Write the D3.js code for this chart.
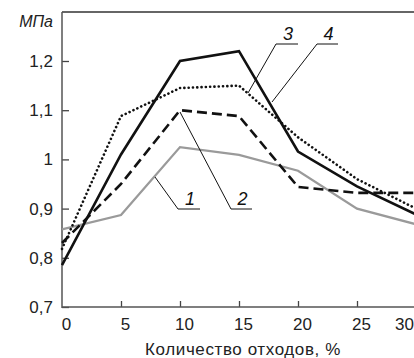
<!DOCTYPE html>
<html><head><meta charset="utf-8">
<script src="https://cdn.jsdelivr.net/npm/d3@7"></script>
<style>html,body{margin:0;padding:0;background:#fff;}svg{display:block;}</style>
</head><body>
<svg id="c" width="414" height="358"></svg>
<script>
const xValues = [0, 5, 10, 15, 20, 25, 30];
const series1 = [0.858, 0.887, 1.025, 1.009, 0.977, 0.900, 0.868];
const series2 = [0.830, 0.950, 1.100, 1.088, 0.944, 0.932, 0.932];
const series3 = [0.785, 1.010, 1.200, 1.220, 1.016, 0.945, 0.888];
const series4 = [0.818, 1.088, 1.145, 1.150, 1.045, 0.960, 0.900];
const yTicks = [0.7, 0.8, 0.9, 1.0, 1.1, 1.2];
const xTicks = [0, 5, 10, 15, 20, 25, 30];
const yLabel = "МПа";
const xLabel = "Количество отходов, %";
const seriesNames = ["1", "2", "3", "4"];

const svg = d3.select("#c");
const x = d3.scaleLinear().domain([0, 30]).range([62, 416]);
const y = d3.scaleLinear().domain([0.7, 1.2]).range([307, 61]);
const font = "'Liberation Sans', Arial, sans-serif";

// frame top line
svg.append("line").attr("x1", 62).attr("x2", 414).attr("y1", 12).attr("y2", 12)
  .attr("stroke", "#333").attr("stroke-width", 1.5);

// y axis
const yAxis = svg.append("g").attr("transform", "translate(62,0)")
  .call(d3.axisRight(y).tickValues(yTicks).tickSize(7).tickFormat(""));
yAxis.select(".domain").remove();
yAxis.selectAll(".tick line").attr("stroke", "#444").attr("stroke-width", 1.3);
svg.append("line").attr("x1", 62).attr("x2", 62).attr("y1", 12).attr("y2", 308)
  .attr("stroke", "#555").attr("stroke-width", 1.5);
svg.append("g").selectAll("text").data(yTicks).join("text")
  .attr("x", 53).attr("y", d => y(d) + 6).attr("text-anchor", "end")
  .attr("font-family", font).attr("font-size", 17).attr("fill", "#222")
  .text(d => d3.format(".1f")(d).replace(".", ",").replace(/^1,0$/, "1"));

// x axis
const xAxis = svg.append("g").attr("transform", "translate(0,307)")
  .call(d3.axisTop(x).tickValues(xTicks.slice(1)).tickSize(6).tickFormat(""));
xAxis.select(".domain").remove();
xAxis.selectAll(".tick line").attr("stroke", "#444").attr("stroke-width", 1.3);
svg.append("line").attr("x1", 62).attr("x2", 414).attr("y1", 307).attr("y2", 307)
  .attr("stroke", "#555").attr("stroke-width", 1.5);
svg.append("g").selectAll("text").data(xTicks).join("text")
  .attr("x", d => d === 30 ? 414 : x(d) + 4.5).attr("y", 330)
  .attr("text-anchor", d => d === 30 ? "end" : "middle")
  .attr("font-family", font).attr("font-size", 17).attr("fill", "#222")
  .text(d => d);

svg.append("text").attr("x", 243).attr("y", 355).attr("text-anchor", "middle")
  .attr("font-family", font).attr("font-size", 17).attr("letter-spacing", 0.6).attr("fill", "#222")
  .text(xLabel);
svg.append("text").attr("x", 53).attr("y", 27).attr("text-anchor", "end")
  .attr("font-family", font).attr("font-size", 16).attr("font-style", "italic").attr("fill", "#222")
  .text(yLabel);

const line = d3.line().x((d, i) => x(xValues[i])).y(d => y(d));
const g = svg.append("g");
g.append("path").attr("d", line(series1)).attr("fill", "none")
  .attr("stroke", "#9a9a9a").attr("stroke-width", 2.3);
g.append("path").attr("d", line(series2)).attr("fill", "none")
  .attr("stroke", "#111").attr("stroke-width", 2.6).attr("stroke-dasharray", "10,5");
g.append("path").attr("d", line(series4)).attr("fill", "none")
  .attr("stroke", "#111").attr("stroke-width", 2.6).attr("stroke-dasharray", "0.1,4.2")
  .attr("stroke-linecap", "round");
g.append("path").attr("d", line(series3)).attr("fill", "none")
  .attr("stroke", "#111").attr("stroke-width", 2.6);

// callouts
const callouts = [
  {name: seriesNames[0], p: [155, 177], q: [178, 209], u: 200, ty: 205},
  {name: seriesNames[1], p: [180, 112], q: [231, 209], u: 252, ty: 205},
  {name: seriesNames[2], p: [248, 93], q: [276, 44], u: 298, ty: 40},
  {name: seriesNames[3], p: [272, 102], q: [317, 44], u: 338, ty: 40}
];
const cg = svg.append("g");
callouts.forEach(c => {
  cg.append("polyline").attr("points", `${c.p[0]},${c.p[1]} ${c.q[0]},${c.q[1]} ${c.u},${c.q[1]}`)
    .attr("fill", "none").attr("stroke", "#111").attr("stroke-width", 1);
  cg.append("text").attr("x", (c.q[0] + c.u) / 2 + 1).attr("y", c.ty).attr("text-anchor", "middle")
    .attr("font-family", font).attr("font-size", 18).attr("font-style", "italic").attr("fill", "#111")
    .text(c.name);
});
</script>
</body></html>
